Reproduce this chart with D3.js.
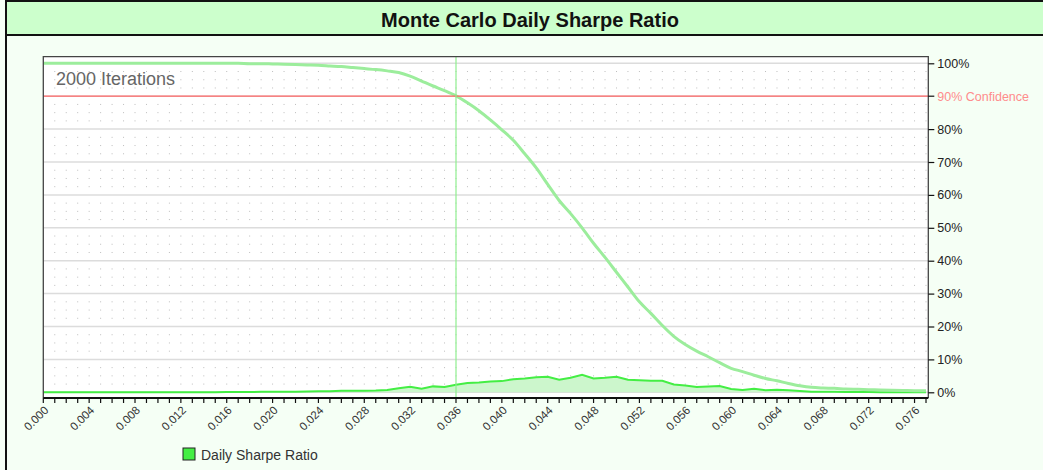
<!DOCTYPE html>
<html>
<head>
<meta charset="utf-8">
<script src="https://cdn.jsdelivr.net/npm/d3@7"></script>
<style>
  body { margin: 0; background: #f5fff5; }
  svg { display: block; font-family: "Liberation Sans", Arial, sans-serif; }
</style>
</head>
<body>
<svg id="chart" width="1043" height="470"></svg>
<script>
// sharpe ratio buckets, one every 0.001
let sharpe = d3.range(0, 78).map(function (i) { return +(i / 1000).toFixed(3) })

// share of runs with a sharpe ratio at or above the bucket (%)
let cumulative = [100, 100, 100, 100, 100, 100, 100, 100, 100, 100,
                  100, 100, 100, 100, 100, 100, 100, 100, 99.9, 99.9,
                  99.8, 99.7, 99.6, 99.5, 99.4, 99.2, 99.0, 98.7, 98.4, 98.1,
                  97.7, 97.2, 96.1, 94.6, 93.1, 91.7, 90.1, 88.0, 85.6, 82.8,
                  79.8, 76.6, 72.5, 68.2, 63.2, 58.3, 54.3, 50.0, 45.3, 41.0,
                  36.5, 32.0, 27.5, 24.0, 20.3, 17.0, 14.5, 12.5, 10.8, 9.0,
                  7.3, 6.3, 5.2, 4.2, 3.5, 2.7, 2.0, 1.5, 1.3, 1.2,
                  1.0, 0.9, 0.8, 0.7, 0.6, 0.55, 0.5, 0.5]

// share of runs falling in the bucket (%)
let distribution = [0, 0, 0, 0, 0, 0, 0, 0, 0, 0,
                    0, 0.05, 0.05, 0.05, 0.05, 0.05, 0.1, 0.1, 0.1, 0.15,
                    0.2, 0.2, 0.2, 0.25, 0.3, 0.35, 0.45, 0.5, 0.5, 0.55,
                    0.7, 1.2, 1.7, 1.1, 1.8, 1.6, 2.3, 2.8, 3.0, 3.3,
                    3.4, 4.0, 4.2, 4.6, 4.7, 3.8, 4.4, 5.3, 4.2, 4.4,
                    4.7, 3.8, 3.7, 3.5, 3.5, 2.4, 2.1, 1.6, 1.8, 1.9,
                    1.0, 0.7, 1.1, 0.6, 0.8, 0.6, 0.4, 0.2, 0.2, 0.15,
                    0.1, 0.1, 0.1, 0.05, 0.05, 0.05, 0.05, 0]

let xTicks = d3.range(0, 78).map(function (i) { return i / 1000 })
let xLabels = d3.range(0, 78, 4).map(function (i) { return i / 1000 })
let yTicks = [0, 10, 20, 30, 40, 50, 60, 70, 80, 90, 100]
let confidence = 90
let confidenceX = 0.036
let iterations = 2000

let svg = d3.select("#chart")
let pLeft = 43.3, pRight = 928.3, pTop = 56.7, pBottom = 398

let xScale = d3.scaleLinear().domain([0, 0.0772]).range([pLeft, pRight])
let yScale = d3.scaleLinear().domain([0, 100]).range([392.3, 63.3])

// frame + title band
svg.append("rect").attr("x", 0).attr("y", 0).attr("width", 1043).attr("height", 470).attr("fill", "#f5fff5")
svg.append("rect").attr("x", 6).attr("y", 1).attr("width", 1043).attr("height", 34)
   .attr("fill", "#ccffcc").attr("stroke", "#111").attr("stroke-width", 2)
svg.append("line").attr("x1", 6).attr("x2", 6).attr("y1", 0).attr("y2", 470)
   .attr("stroke", "#111").attr("stroke-width", 2)
svg.append("text").attr("x", 530).attr("y", 26.5).attr("text-anchor", "middle")
   .attr("font-size", 20).attr("font-weight", "bold").attr("fill", "#111")
   .text("Monte Carlo Daily Sharpe Ratio")

// plot background
svg.append("rect").attr("x", pLeft).attr("y", pTop).attr("width", pRight - pLeft).attr("height", pBottom - pTop)
   .attr("fill", "#ffffff")

// dotted grid
let dotRows = d3.range(0, 101, 2.5).filter(function (d) { return d % 10 != 0 })
dotRows.forEach(function (r) {
    svg.append("g").selectAll("rect")
       .data(xTicks.slice(1))
       .enter().append("rect")
       .attr("x", function (d) { return xScale(d) - 0.5 })
       .attr("y", yScale(r) - 0.5)
       .attr("width", 1).attr("height", 1)
       .attr("fill", "#bdbdbd")
})

// solid grid
svg.append("g").selectAll("line")
   .data(yTicks)
   .enter().append("line")
   .attr("x1", pLeft).attr("x2", pRight)
   .attr("y1", function (d) { return yScale(d) })
   .attr("y2", function (d) { return yScale(d) })
   .attr("stroke", "#dcdcdc").attr("stroke-width", 1.5)

// distribution area + line
let pts = sharpe.map(function (s, i) { return { x: s, c: cumulative[i], d: distribution[i] } })

let area = d3.area().x(function (d) { return xScale(d.x) })
                    .y0(yScale(0)).y1(function (d) { return yScale(d.d) })
svg.append("path").datum(pts).attr("d", area).attr("fill", "#ccf6cc")

svg.append("path").datum(pts)
   .attr("d", d3.line().x(function (d) { return xScale(d.x) }).y(function (d) { return yScale(d.d) }))
   .attr("fill", "none").attr("stroke", "#44ee44").attr("stroke-width", 2)

// cumulative line
svg.append("path").datum(pts)
   .attr("d", d3.line().curve(d3.curveMonotoneX)
                .x(function (d) { return xScale(d.x) }).y(function (d) { return yScale(d.c) }))
   .attr("fill", "none").attr("stroke", "#9ced9c").attr("stroke-width", 3)

// confidence lines
svg.append("line").attr("x1", pLeft).attr("x2", pRight)
   .attr("y1", yScale(confidence)).attr("y2", yScale(confidence))
   .attr("stroke", "#ff6666").attr("stroke-width", 1.3)
svg.append("line").attr("x1", xScale(confidenceX)).attr("x2", xScale(confidenceX))
   .attr("y1", pTop).attr("y2", pBottom)
   .attr("stroke", "#8fee8f").attr("stroke-width", 1.2)

// plot border
svg.append("path")
   .attr("d", `M${pLeft},${pBottom} V${pTop} H${pRight} V${pBottom}`)
   .attr("fill", "none").attr("stroke", "#444").attr("stroke-width", 1.3)

// iterations note
svg.append("text").attr("x", 56).attr("y", 85)
   .attr("font-size", 18).attr("fill", "#666")
   .text(`${iterations} Iterations`)

// x axis
let xAxis = svg.append("g").attr("transform", `translate(0,${pBottom})`)
xAxis.append("line").attr("x1", pLeft).attr("x2", pRight).attr("stroke", "#111").attr("stroke-width", 2)
xAxis.selectAll(".tick")
     .data(xTicks)
     .enter().append("line")
     .attr("x1", function (d) { return xScale(d) }).attr("x2", function (d) { return xScale(d) })
     .attr("y1", 0).attr("y2", 5)
     .attr("stroke", "#111").attr("stroke-width", 1.2)
xAxis.selectAll(".xlabel")
     .data(xLabels)
     .enter().append("text")
     .attr("transform", function (d) { return `translate(${xScale(d) + 3},${10}) rotate(-45)` })
     .attr("text-anchor", "end")
     .attr("dy", "0.35em")
     .attr("font-size", 11.5).attr("fill", "#333")
     .text(function (d) { return d3.format(".3f")(d) })

// y axis (right); the 90% slot carries the confidence label instead
let yAxis = d3.axisRight(yScale).tickValues(yTicks.filter(function (d) { return d != confidence }))
              .tickSize(6)
              .tickFormat(function (d) { return d + "%" })
let yg = svg.append("g").attr("transform", `translate(${pRight},0)`).call(yAxis)
yg.select(".domain").remove()
yg.selectAll("line").attr("stroke", "#111").attr("stroke-width", 1.2)
yg.selectAll("text").attr("font-size", 12.5).attr("fill", "#222")
  .attr("font-family", "Liberation Sans, Arial, sans-serif").attr("x", 9)
svg.append("line").attr("x1", pRight).attr("x2", pRight + 6)
   .attr("y1", yScale(confidence)).attr("y2", yScale(confidence))
   .attr("stroke", "#111").attr("stroke-width", 1.2)
svg.append("text").attr("x", pRight + 9).attr("y", yScale(confidence)).attr("dy", "0.35em")
   .attr("font-size", 12.5).attr("fill", "#ff8c8c")
   .text(`${confidence}% Confidence`)

// legend
svg.append("rect").attr("x", 183).attr("y", 448).attr("width", 12).attr("height", 12)
   .attr("fill", "#44ee44").attr("stroke", "#222").attr("stroke-width", 1)
svg.append("text").attr("x", 201).attr("y", 459.5).attr("font-size", 14).attr("fill", "#333")
   .text("Daily Sharpe Ratio")
</script>
</body>
</html>
